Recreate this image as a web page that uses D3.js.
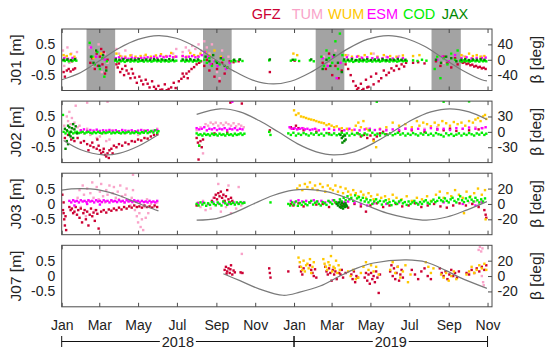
<!DOCTYPE html>
<html><head><meta charset="utf-8">
<script src="https://cdn.jsdelivr.net/npm/d3@7"></script>
<style>
body{margin:0;background:#fff;}
svg{display:block;font-family:"Liberation Sans",Arial,sans-serif;}
</style></head><body>
<svg width="550" height="357"></svg>
<script>
// analysis centres, in legend order
const centres = ['GFZ', 'TUM', 'WUM', 'ESM', 'COD', 'JAX'];
const centreColors = ['#cc0033', '#f9a3c9', '#ffc800', '#ff00ff', '#00ee00', '#008800'];
const satellites = ['J01', 'J02', 'J03', 'J07'];
const monthTicks = ['2018-01', '2018-03', '2018-05', '2018-07', '2018-09', '2018-11',
  '2019-01', '2019-03', '2019-05', '2019-07', '2019-09', '2019-11'];
const mTicks = [-0.5, 0, 0.5];
const betaTicks = [[-40, 0, 40], [-30, 0, 30], [-20, 0, 20], [-20, 0, 20]];
const betaLimits = [80, 60, 40, 40];
const years = [['2018', 0, 365], ['2019', 365, 669]];

// eclipse seasons of J01, [start day, end day] since 2018-01-01
const j01Shade = [[39, 84], [222, 267], [399, 444], [581, 627]];

// beta angle [day, deg]
const j01Beta = [[[0,-52],[30,-33],[60,-2],[90,30],[120,53],[152,63],[180,56],[210,34],[240,2],[270,-29],[300,-53],[332,-63],[360,-56],[390,-34],[420,-3],[450,29],[480,53],[513,63],[540,56],[570,35],[600,3],[630,-28],[660,-52],[668,-55]]];
const j02Beta = [[[3,-17],[30,-35],[65,-45],[90,-42],[120,-28],[152,-5]],
  [[212,34],[249,45],[280,39],[310,22],[340,0],[370,-23],[400,-39],[427,-45],[460,-39],[490,-22],[520,0],[550,23],[580,39],[610,45],[640,39],[668,24]]];
const j03Beta = [[[0,18],[15,19.5],[30,20],[45,19.5],[60,18],[75,15],[90,11],[105,6],[120,1],[135,-4],[152,-9]],
  [[212,-21],[243,-19],[275,-10],[301,0],[332,11],[364,18],[385,19],[416,16],[448,8],[479,-2],[511,-12],[542,-18],[573,-21],[605,-17],[636,-8],[668,3]]];
const j07Beta = [[[254,3],[280,-6],[311,-17],[348,-25],[374,-21],[406,-13],[437,0],[463,10],[490,17],[542,21],[573,18],[604,7],[626,-2],[668,-16]]];

// orbit differences [day, m]
const j01Gfz = [[3,-0.4],[5,-0.55],[8,-0.35],[11,-0.3],[14,-0.38],[18,-0.32],[21,-0.28],[16,-0.05],
  [45,-0.1],[48,0.05],[52,-0.3],[55,0.2],[57,-0.2],[60,0.1],[62,0.35],[64,-0.15],[66,0.25],[68,-0.45],[70,-0.25],[72,0.0],
  [86,-0.15],[88,-0.25],[90,-0.12],[92,-0.4],[95,-0.3],[98,-0.5],[100,-0.2],[102,-0.35],[105,-0.45],[108,-0.6],[110,-0.3],[112,-0.45],[115,-0.58],[118,-0.75],[122,-0.55],[125,-0.68],[128,-0.8],[132,-0.65],[135,-0.78],[138,-0.9],[142,-0.7],[145,-0.88],[148,-0.95],[152,-0.85],[155,-0.98],[158,-0.97],[162,-0.8],[165,-0.99],[168,-0.95],[172,-0.9],[176,-0.75],[179,-0.92],
  [184,-0.7],[188,-0.62],[190,-0.45],[192,-0.55],[196,-0.45],[198,-0.6],[200,-0.38],[204,-0.3],[208,-0.24],[212,-0.15],[216,-0.1],[219,-0.05],
  [224,-0.2],[228,0.0],[232,-0.35],[236,-0.15],[240,-0.55],[244,-0.3],[248,-0.7],[252,-0.1],[256,-0.45],[260,-0.25],[264,-0.05],
  [270,-0.08],[278,-0.05],[327,-0.4],[366,-0.03],
  [410,-0.1],[415,-0.3],[420,0.2],[425,-0.5],[430,-0.2],[435,-0.6],[440,-0.35],
  [446,-0.15],[450,-0.3],[454,-0.5],[458,-0.7],[462,-0.85],[464,-0.97],[466,-0.92],[470,-0.78],[472,-0.99],[474,-0.95],[478,-0.65],[480,-0.9],[482,-0.88],[486,-0.55],[490,-0.8],[494,-0.45],[498,-0.7],[502,-0.6],[506,-0.35],[510,-0.5],[514,-0.42],[518,-0.28],[522,-0.35],[526,-0.2],[530,-0.3],[534,-0.15],[538,-0.22],[541,-0.1],
  [552,-0.1],[560,-0.08],[570,-0.12],
  [588,-0.05],[595,-0.2],[600,0.1],[606,-0.1],[612,-0.25],[618,0.05],[622,-0.15],
  [627,-0.05],[630,-0.1],[633,-0.08],[636,-0.14],[639,-0.12],[642,-0.18],[645,-0.16],[648,-0.22],[651,-0.2],[654,-0.25],[657,-0.23],[660,-0.28],[663,-0.26],[666,-0.3]];
const j01Tum = [[2,0.3],[4,-0.2],[6,0.1],[9,0.4],[12,-0.1],[15,0.2],[19,-0.3],[22,0.05],[24,0.25],
  [44,0.4],[48,-0.2],[53,0.3],[58,0.5],[63,-0.4],[68,0.2],[72,-0.1],
  [86,0.35],[90,0.2],[95,0.1],[100,0.3],[110,0.15],[120,0.05],[130,0.12],[145,0.08],[160,0.1],[175,0.2],[180,0.35],
  [190,0.25],[195,0.4],[200,0.3],[205,0.45],[210,0.35],[215,0.5],[219,0.3],
  [224,0.6],[228,0.4],[232,0.2],[236,0.5],[240,0.0],[244,-0.4],[248,-0.6],[252,0.3],[256,-0.2],[262,0.1],
  [412,0.1],[420,-0.15],[430,0.3],[450,0.15],[470,0.08],[490,0.2],[510,0.1],[530,0.12],
  [590,0.1],[600,-0.1],[612,0.2],[630,0.12],[645,0.05],[660,0.1]];
const j01Wum = [[3,0.15],[8,0.12],[14,0.18],[20,0.1],[50,0.05],[62,0.2],
  [86,0.2],[92,0.12],[100,0.1],[108,0.14],[116,0.1],[124,0.12],[132,0.16],[140,0.1],[148,0.14],[156,0.18],[164,0.12],[172,0.22],[178,0.1],
  [190,0.12],[196,0.1],[202,0.22],[208,0.15],[214,0.12],[218,0.2],
  [226,0.25],[232,0.15],[240,0.3],[250,0.1],[364,0.2],[370,0.15],
  [446,0.15],[456,0.1],[466,0.12],[476,0.15],[486,0.2],[496,0.1],[506,0.15],[516,0.12],[526,0.1],[536,0.14],
  [552,0.12],[562,0.15],
  [628,0.15],[634,0.1],[640,0.2],[646,0.12],[652,0.15],[658,0.1],[664,0.12]];
const j01Esm = [[4,0.05],[10,0.03],[17,0.06],[46,0.4],[54,0.1],[60,-0.2],[68,0.0],
  [85,0.05],[90,0.08],[95,0.04],[100,0.06],[105,0.03],[110,0.07],[115,0.05],[120,0.04],[125,0.06],[130,0.05],[135,0.08],[140,0.05],[145,0.1],[150,0.06],[155,0.12],[160,0.08],[165,0.1],[170,0.12],[175,0.08],[180,0.1],
  [190,0.12],[195,0.08],[200,0.1],[205,0.12],[210,0.08],[215,0.1],[220,0.15],
  [225,0.25],[230,0.1],[234,-0.15],[240,-0.05],[245,-0.2],[252,0.05],[258,-0.3],[264,-0.1],
  [410,0.05],[418,-0.2],[426,0.1],[432,-0.6],[438,-0.1],
  [448,0.08],[456,0.05],[464,0.1],[472,0.06],[480,0.08],[488,0.05],[496,0.07],[504,0.05],[512,0.08],[520,0.04],[528,0.06],[536,0.05],
  [590,0.0],[598,0.1],[608,-0.05],[618,0.15],
  [628,0.05],[636,0.08],[644,0.04],[652,0.06],[660,0.05],[666,0.07]];
const j01Cod = [[2,-0.02],[5,-0.04],[8,0.0],[11,-0.05],[14,-0.02],[17,-0.04],[20,-0.01],[23,-0.03],
  [44,0.55],[48,0.1],[52,-0.15],[56,0.25],[60,-0.3],[64,0.05],[67,-0.55],[71,-0.05],
  [84,-0.03],[87,-0.06],[90,-0.02],[93,-0.05],[96,-0.03],[99,-0.07],[102,-0.04],[105,-0.02],[108,-0.06],[111,-0.03],[114,-0.05],[117,-0.02],[120,-0.06],[123,-0.04],[126,-0.03],[129,-0.06],[132,-0.02],[135,-0.05],[138,-0.03],[141,-0.06],[144,-0.04],[147,-0.02],[150,-0.05],[153,-0.03],[156,-0.06],[159,-0.02],[162,-0.05],[165,-0.03],[168,-0.06],[171,-0.04],[174,-0.02],[177,-0.05],[180,-0.03],
  [188,-0.04],[191,-0.02],[194,-0.06],[197,-0.03],[200,-0.05],[203,-0.02],[206,-0.06],[209,-0.03],[212,-0.05],[215,-0.02],[218,-0.04],
  [224,0.0],[228,-0.1],[232,0.05],[236,-0.2],[242,-0.05],[248,-0.15],[254,0.0],[260,-0.25],[266,-0.05],
  [270,-0.02],[273,-0.05],[279,0.0],[284,-0.04],[326,-0.02],[360,-0.03],[367,0.0],[373,-0.04],[390,-0.02],[396,-0.05],
  [408,0.1],[412,-0.2],[416,0.3],[420,0.05],[425,-0.1],[430,0.6],[434,-0.3],[437,0.85],[441,0.15],
  [443,-0.03],[446,-0.06],[449,-0.02],[452,-0.05],[455,-0.03],[458,-0.07],[461,-0.04],[464,-0.02],[467,-0.06],[470,-0.03],[473,-0.05],[476,-0.02],[479,-0.06],[482,-0.04],[485,-0.03],[488,-0.06],[491,-0.02],[494,-0.05],[497,-0.03],[500,-0.06],[503,-0.04],[506,-0.02],[509,-0.05],[512,-0.03],[515,-0.06],[518,-0.02],[521,-0.05],[524,-0.03],[527,-0.06],[530,-0.04],[533,-0.02],[536,-0.05],[539,-0.03],[542,-0.04],
  [552,-0.02],[559,-0.04],[566,0.0],[573,-0.03],
  [586,-0.3],[590,0.1],[595,-0.6],[600,0.05],[606,-0.15],[612,0.2],[618,0.0],[622,0.3],
  [626,-0.03],[629,-0.06],[632,-0.02],[635,-0.05],[638,-0.03],[641,-0.06],[644,-0.04],[647,-0.02],[650,-0.05],[653,-0.03],[656,-0.06],[659,-0.02],[662,-0.05],[665,-0.03],[667,-0.05]];
const j01Jax = [[3,0.0],[9,0.01],[15,-0.01],[21,0.02],
  [46,0.1],[50,-0.1],[54,0.3],[59,-0.2],[65,0.15],[70,-0.35],
  [85,0.01],[91,0.0],[97,0.02],[103,-0.01],[109,0.01],[115,0.0],[121,0.02],[127,-0.01],[133,0.01],[139,0.0],[145,0.02],[151,0.0],[157,0.01],[163,-0.01],[169,0.02],[175,0.0],
  [190,0.01],[196,0.0],[202,0.02],[208,-0.01],[214,0.01],
  [226,0.1],[232,-0.05],[238,0.15],[244,-0.1],[250,0.05],[256,-0.2],
  [271,0.0],[280,0.01],[327,0.01],[363,0.0],[392,0.01],
  [410,-0.3],[416,0.0],[422,-0.2],[428,0.15],[434,-0.1],[440,-0.4],
  [444,0.01],[450,0.0],[456,0.02],[462,-0.01],[468,0.01],[474,0.0],[480,0.02],[486,-0.01],[492,0.01],[498,0.0],[504,0.02],[510,-0.01],[516,0.01],[522,0.0],[528,0.02],[534,0.0],[540,0.0],
  [588,0.0],[596,-0.1],[604,0.1],[612,0.05],[620,-0.05],
  [628,0.0],[634,0.02],[640,-0.01],[646,0.01],[652,0.0],[658,0.02],[664,0.0]];

const j02Gfz = [[5,-0.2],[10,-0.1],[15,-0.25],[20,-0.3],[25,-0.2],[30,-0.35],[35,-0.3],[40,-0.4],[45,-0.45],[50,-0.5],[55,-0.55],[60,-0.6],[62,-0.7],[65,-0.65],[68,-0.75],[70,-0.8],[72,-0.7],[75,-0.6],[78,-0.55],[82,-0.45],[86,-0.5],[90,-0.4],[95,-0.45],[100,-0.35],[105,-0.4],[110,-0.3],[115,-0.32],[120,-0.25],[125,-0.28],[130,-0.2],[135,-0.22],[140,-0.15],[145,-0.1],[150,-0.08],
  [42,-0.6],[48,-0.35],[58,-0.45],[66,-0.55],[74,-0.85],[80,-0.7],[56,-0.25],
  [212,-0.2],[214,-0.35],[216,-0.45],[218,-0.3],[220,-0.5],[222,-0.25],[215,-0.9],[265,0.95],[283,0.92],[240,-0.05],[260,-0.02],
  [327,0.05],
  [360,0.15],[364,0.1],[368,0.2],[372,0.12],[380,0.05],[400,0.0],[420,-0.05],[440,0.02],[465,-0.05],[470,-0.15],[475,-0.1],[480,-0.2],[485,-0.12],[490,-0.25],[495,-0.15],[500,-0.05],[505,0.0],[510,-0.08],[530,0.02],[550,0.05],[570,0.0],[590,0.08],[600,0.05],[610,0.1],[620,0.03],[640,0.05],[655,0.08]];
const j02Tum = [[4,0.2],[8,0.5],[10,0.35],[12,0.65],[14,0.25],[16,0.45],[18,0.1],[20,0.3],[22,0.85],[25,0.15],[28,0.2],[30,0.05],[35,-0.05],[40,0.1],[45,-0.1],[50,0.0],[55,-0.2],[60,-0.15],[65,-0.05],[70,-0.3],[75,-0.25],[80,0.05],[90,0.0],[100,-0.05],[110,0.0],[120,-0.1],[130,0.05],[140,0.0],[150,0.1],[40,0.95],[72,0.98],
  [212,0.05],[218,0.15],[222,-0.7],[226,0.25],[230,0.2],[234,0.3],[238,0.25],[242,0.3],[246,0.2],[250,0.28],[254,0.22],[258,0.3],[262,0.25],[266,0.2],[270,0.28],[274,0.18],[278,0.25],[282,0.2],[286,0.15],
  [360,0.1],[380,0.12],[400,0.08],[420,0.1],[450,0.05],[480,0.1],[510,0.08],[540,0.12],[570,0.1],[590,0.15],[610,0.12],[630,0.1],[650,0.15],[662,0.12]];
const j02Wum = [[365,0.7],[368,0.55],[372,0.6],[376,0.5],[380,0.48],[384,0.45],[388,0.42],[392,0.4],[396,0.38],[400,0.35],[404,0.32],[408,0.3],[412,0.28],[416,0.22],[420,0.25],[424,0.2],[428,0.15],[432,0.18],[436,0.1],[440,0.12],[448,0.1],[456,0.05],[462,0.2],[466,0.3],[470,0.15],[474,0.35],[478,0.1],[482,0.05],[490,-0.3],[494,-0.5],[500,0.1],[510,0.15],[520,0.3],[530,0.2],[540,0.25],[550,0.15],[558,0.35],[562,0.2],[568,0.3],[574,0.25],[580,0.18],[586,0.3],[592,0.22],[598,0.35],[604,0.28],[610,0.2],[616,0.32],[622,0.25],[628,0.3],[634,0.2],[640,0.35],[646,0.3],[650,0.4],[654,0.45],[658,0.35],[662,0.5],[665,0.55],[667,0.42]];
const j02Esm = [[30,0.05],[35,0.08],[40,0.03],[45,0.06],[50,0.04],[55,0.07],[60,0.03],[65,0.05],[70,0.04],[75,0.06],[80,0.03],[85,0.05],[90,0.02],[95,0.06],[100,0.04],[105,0.03],[110,0.05],[115,0.02],[120,0.04],[125,0.06],[130,0.03],[135,0.05],[140,0.02],[145,0.04],[150,0.06],
  [212,0.12],[216,0.08],[220,0.1],[224,0.15],[228,0.05],[232,0.1],[236,0.08],[240,0.12],[244,0.06],[248,0.1],[252,0.08],[256,0.12],[260,0.06],[264,0.1],[268,0.08],[272,0.12],[276,0.06],[280,0.1],[284,0.08],[268,0.98],
  [358,0.15],[362,0.1],[366,0.12],[370,0.08],[374,0.1],[378,0.12],[382,0.08],[386,0.1],[390,0.06],[394,0.08],[398,0.1],[404,0.05],[412,0.08],[420,0.1],[428,0.06],[436,0.08],[444,0.05],[452,0.1],[460,0.07],[468,0.05],[476,0.08],[484,0.1],[492,0.06],[500,0.08],[510,0.05],[520,0.08],[530,0.06],[540,0.1],[550,0.08],[560,0.1],[570,0.06],[580,0.12],[590,0.08],[600,0.1],[610,0.06],[620,0.12],[630,0.1],[640,0.14],[650,0.1],[660,0.12],[666,0.15]];
const j02Cod = [[2,0.55],[3,0.0],[6,-0.05],[9,0.02],[12,-0.03],[15,0.0],[18,-0.05],[21,-0.02],[24,0.0],[27,-0.04],[30,-0.02],[33,0.0],[36,-0.05],[39,-0.02],[42,0.0],[45,-0.03],[48,-0.05],[51,-0.01],[54,-0.04],[57,0.0],[60,-0.03],[63,-0.05],[66,-0.01],[69,-0.04],[72,-0.02],[75,0.0],[78,-0.05],[81,-0.02],[84,-0.04],[87,0.0],[90,-0.03],[93,-0.05],[96,-0.01],[99,-0.04],[102,-0.02],[105,0.0],[108,-0.05],[111,-0.02],[114,-0.04],[117,0.0],[120,-0.03],[123,-0.05],[126,-0.01],[129,-0.03],[132,0.02],[135,-0.04],[138,-0.01],[141,0.03],[144,-0.02],[147,0.05],[150,-0.03],[152,0.02],
  [212,-0.05],[215,-0.1],[218,-0.08],[221,-0.12],[224,-0.06],[227,-0.1],[230,-0.08],[233,-0.12],[236,-0.06],[239,-0.1],[242,-0.08],[245,-0.12],[248,-0.06],[251,-0.1],[254,-0.08],[257,-0.12],[260,-0.06],[263,-0.1],[266,-0.08],[269,-0.12],[272,-0.06],[275,-0.1],[278,-0.08],[281,-0.05],[284,-0.1],[287,-0.06],[216,-0.45],
  [326,0.0],[328,-0.1],
  [356,-0.05],[360,-0.1],[364,-0.03],[368,-0.12],[372,-0.06],[376,-0.1],[380,-0.04],[384,-0.08],[388,-0.12],[392,-0.05],[396,-0.09],[400,-0.03],[404,-0.1],[408,-0.06],[412,-0.12],[416,-0.04],[420,-0.08],[424,-0.1],[428,-0.05],[432,-0.11],[436,-0.07],[440,-0.03],[444,-0.09],[448,-0.05],[452,-0.12],[456,-0.06],[460,-0.1],[464,-0.04],[468,-0.08],[472,-0.12],[476,-0.05],[480,-0.09],[484,0.05],[488,-0.03],[492,-0.1],[496,-0.06],[500,-0.12],[504,-0.04],[508,-0.08],[512,-0.1],[516,-0.05],[520,-0.11],[524,-0.07],[528,-0.03],[532,-0.09],[536,-0.05],[540,-0.12],[544,-0.06],[548,-0.1],[552,-0.04],[556,-0.08],[560,-0.12],[564,-0.05],[568,-0.09],[572,-0.03],[576,-0.1],[580,-0.06],[584,-0.12],[588,-0.04],[592,-0.08],[596,-0.1],[600,-0.15],[604,-0.05],[608,-0.11],[612,-0.07],[616,-0.13],[620,-0.09],[624,-0.05],[628,-0.12],[632,-0.06],[636,-0.1],[640,-0.04],[644,-0.08],[648,-0.12],[652,-0.05],[656,-0.09],[660,-0.03],[664,-0.1],[667,-0.06],
  [495,0.98],[600,0.98],[640,0.99]];
const j02Jax = [[5,0.1],[8,0.05],[10,0.2],[12,0.15],[14,0.0],[16,0.12],[18,0.25],[20,0.08],[22,0.18],[24,-0.05],[8,-0.3],[10,-0.4],[14,-0.15],[18,-0.2],[6,-0.55],[12,-0.1],
  [438,-0.1],[440,-0.2],[442,-0.15],[444,-0.3],[446,-0.25],[441,-0.35],[445,-0.12]];

const j03Gfz = [[1,0.3],[2,-0.2],[3,0.05],[4,-0.5],[5,-0.7],[6,-0.4],[7,-0.85],[3,-0.3],
  [12,-0.1],[14,-0.2],[16,-0.15],[18,-0.3],[20,-0.25],[22,-0.1],[24,-0.35],[26,-0.2],[28,-0.45],[30,-0.15],[32,-0.6],[34,-0.3],[36,-0.2],[38,-0.5],[40,-0.25],[42,-0.7],[44,-0.35],[46,-0.15],[48,-0.4],[50,-0.28],[52,-0.55],[54,-0.2],[56,-0.32],[58,-0.8],[62,-0.25],[66,-0.2],[70,-0.28],[74,-0.18],[78,-0.22],[82,-0.15],[86,-0.2],[90,-0.12],[94,-0.18],[98,-0.1],[102,-0.15],[106,-0.08],[110,-0.12],[114,-0.05],[118,-0.1],[122,-0.08],[126,-0.12],[130,-0.05],[134,-0.1],[138,-0.08],[142,-0.12],[146,-0.05],[150,-0.1],
  [212,-0.05],[214,0.02],[236,0.1],[240,0.2],[242,0.3],[244,0.15],[246,0.35],[248,0.25],[250,0.4],[252,0.2],[254,0.3],[256,0.1],[258,0.25],[260,0.45],[262,0.15],[264,0.05],[266,0.2],[268,0.1],
  [360,0.0],[364,-0.05],[372,0.02],[380,-0.08],[390,0.05],[400,-0.02],[410,0.0],[420,-0.1],[430,0.05],[440,-0.05],[450,-0.12],[460,0.0],[470,-0.08],[478,-0.25],[485,-0.05],[495,0.02],[505,-0.1],[515,-0.05],[525,0.0],[535,-0.08],[545,-0.05],[555,0.02],[565,-0.1],[575,-0.05],[585,0.0],[595,-0.08],[605,-0.12],[615,-0.05],[625,0.02],[635,-0.05],[645,0.0],[655,-0.1],[664,-0.2],[666,-0.35],[667,-0.45]];
const j03Tum = [[25,0.2],[28,0.45],[30,-0.1],[33,0.6],[35,0.3],[38,-0.4],[40,0.5],[42,0.1],[45,0.35],[48,0.7],[50,0.2],[52,-0.2],[55,0.55],[58,0.15],[60,0.4],[62,0.65],[65,0.25],[68,0.05],[70,0.45],[72,0.3],[75,0.6],[78,0.1],[80,0.35],[82,0.55],[85,0.2],[88,0.4],[90,0.15],[92,0.6],[95,0.25],[98,0.05],[100,0.3],[102,0.5],[105,0.1],[108,-0.05],[110,0.2],[112,0.45],[115,-0.2],[118,-0.4],[120,-0.6],[122,-0.3],[124,-0.75],[126,-0.5],[128,-0.85],[130,-0.1],[132,-0.45],[134,0.15],[136,-0.3],[140,0.0],[145,-0.1],[150,0.05],[112,0.95],
  [214,0.05],[218,-0.1],[222,0.1],[226,-0.2],[230,0.0],[234,-0.15],[238,0.2],[242,-0.05],[246,0.65],[250,-0.25],[254,0.1],[258,-0.1],[262,0.6],[266,-0.3],[270,0.05],[274,-0.15],[278,0.55],[282,-0.05],
  [640,0.05],[645,0.0],[650,0.08],[655,-0.02],[660,0.1]];
const j03Wum = [[370,0.5],[374,0.6],[378,0.45],[382,0.65],[386,0.55],[390,0.7],[394,0.5],[398,0.6],[402,0.45],[406,0.65],[410,0.55],[414,0.4],[418,0.6],[422,0.5],[426,0.45],[430,0.6],[434,0.4],[438,0.55],[442,0.35],[446,0.5],[450,0.4],[454,0.3],[458,0.45],[462,0.35],[466,0.25],[470,0.4],[474,0.3],[478,0.2],[482,0.35],[486,0.25],[490,0.15],[496,0.3],[502,0.2],[508,0.25],[514,0.15],[520,0.3],[526,0.2],[534,0.15],[542,0.25],[550,0.1],[558,0.2],[566,0.15],[574,0.25],[580,0.1],[588,0.3],[594,0.4],[600,0.2],[606,0.35],[612,0.25],[618,0.45],[624,0.3],[630,0.2],[636,0.4],[642,0.25],[648,0.35],[654,0.5],[660,0.3],[665,0.45],[632,-0.3],[666,-0.5]];
const j03Esm = [[12,0.1],[15,0.05],[18,0.12],[21,0.08],[24,0.1],[27,0.05],[30,0.12],[33,0.08],[36,0.1],[39,0.06],[42,0.12],[45,0.08],[48,0.1],[51,0.05],[54,0.12],[57,0.08],[60,0.1],[63,0.06],[66,0.12],[69,0.08],[72,0.1],[75,0.05],[78,0.12],[81,0.08],[84,0.1],[87,0.06],[90,0.12],[93,0.08],[96,0.1],[99,0.05],[102,0.12],[105,0.08],[108,0.1],[111,0.06],[114,0.12],[117,0.08],[120,0.1],[123,0.05],[126,0.1],[129,0.06],[132,0.08],[135,0.05],[138,0.1],[141,0.06],[144,0.08],[147,0.05],[150,0.1],[20,-0.05],[40,0.0],[60,-0.02],
  [214,0.02],[222,0.05],[230,0.0],[238,0.06],[246,0.02],[254,0.05],[262,0.0],[270,0.04],[278,0.02],[286,0.05],
  [360,0.1],[366,0.05],[372,0.12],[378,0.08],[384,0.1],[390,0.05],[396,0.12],[402,0.08],[408,0.1],[414,0.05],[420,0.08],[426,0.12],[432,0.06],[438,0.1],[444,0.05],[450,0.08],[460,0.05],[470,0.0],[480,-0.05],[490,0.02],[510,0.0],[530,0.05],[560,0.0],[600,0.05],[630,0.0],[650,-0.05],[660,0.05]];
const j03Cod = [[212,0.0],[215,-0.05],[218,0.05],[221,-0.02],[224,0.03],[227,-0.06],[230,0.02],[233,-0.03],[236,0.06],[239,0.0],[242,-0.04],[245,0.05],[248,0.0],[251,-0.05],[254,0.08],[257,0.02],[260,-0.03],[263,0.06],[266,0.0],[269,0.04],[272,-0.02],[275,0.05],[278,0.0],[281,0.06],[284,0.02],[287,0.04],
  [328,0.05],
  [356,0.0],[359,-0.05],[362,0.05],[365,-0.02],[368,0.08],[371,-0.06],[374,0.03],[377,-0.03],[380,0.06],[383,0.0],[386,-0.04],[389,0.05],[392,0.1],[395,-0.02],[398,0.04],[401,0.08],[404,0.0],[407,-0.05],[410,0.06],[413,0.02],[416,-0.03],[419,0.1],[422,0.05],[425,0.0],[428,0.12],[431,0.06],[434,0.02],[437,0.15],[440,0.08],[443,0.2],[446,0.12],[449,0.25],[452,0.15],[455,0.2],[458,0.1],[461,0.28],[464,0.18],[467,0.22],[470,0.12],[473,0.2],[476,0.08],[479,0.15],[482,0.05],[485,0.12],[488,0.0],[491,0.08],[494,0.15],[497,0.05],[500,0.1],[503,-0.02],[506,0.08],[509,0.12],[512,0.02],[515,0.06],[518,-0.04],[521,0.1],[524,0.04],[527,0.0],[530,0.08],[533,0.12],[536,0.02],[539,0.06],[542,-0.03],[545,0.08],[548,0.0],[551,0.05],[554,0.1],[557,0.03],[560,-0.02],[563,0.06],[566,0.0],[569,0.08],[572,0.12],[575,0.04],[578,0.0],[581,0.08],[584,0.14],[587,0.06],[590,0.1],[593,0.2],[596,0.12],[599,0.08],[602,0.18],[605,0.1],[608,0.05],[611,0.15],[614,0.2],[617,0.1],[620,0.05],[623,0.15],[626,0.25],[629,0.12],[632,0.06],[635,0.18],[638,0.1],[641,0.22],[644,0.14],[647,0.08],[650,0.2],[653,0.12],[656,0.05],[659,0.15],[662,0.08],[665,0.18]];
const j03Jax = [[432,0.0],[434,-0.05],[436,0.05],[437,-0.1],[438,-0.02],[439,-0.12],[440,0.03],[441,-0.08],[442,-0.15],[443,0.0],[444,-0.06],[445,-0.1],[446,0.02],[447,-0.04],[448,-0.08]];

const j07Gfz = [[256,0.2],[258,0.3],[260,0.15],[262,0.25],[264,0.1],[266,0.35],[268,0.05],[270,0.18],[272,0.12],[259,0.08],[265,0.22],[281,0.12],[284,0.1],[326,0.25],[327,0.1],[328,-0.05],[356,0.15],
  [374,0.3],[376,0.15],[378,0.05],[380,0.25],[390,0.35],[392,0.2],[394,0.1],[396,0.0],[398,0.22],[400,-0.05],[414,0.3],[416,0.15],[418,0.05],[420,0.25],[422,0.1],[424,-0.15],[426,0.2],[428,0.05],[430,0.15],[432,-0.1],[436,0.1],[438,0.05],[440,0.2],[442,-0.05],[446,0.1],
  [455,0.05],[457,-0.1],[459,0.15],[461,-0.2],[463,0.0],[465,-0.05],[476,-0.05],[478,0.1],[480,-0.15],[482,0.05],[484,-0.25],[486,0.1],[488,-0.1],[490,0.0],[492,-0.2],[494,0.15],[496,-0.05],[498,-0.55],[500,0.05],
  [516,0.15],[518,0.35],[520,0.0],[522,0.25],[524,-0.1],[526,0.1],[528,0.3],[530,-0.15],[532,0.05],[534,0.2],[536,-0.05],[550,0.2],[555,0.05],[560,-0.1],[565,0.15],[570,0.25],[575,0.0],[580,-0.1],
  [594,0.25],[597,0.1],[600,0.0],[603,0.15],[606,-0.1],[609,0.05],[612,0.2],[615,0.0],[618,0.1],[621,-0.05],[624,0.15],[636,0.1],[640,0.05],[644,0.2],[648,0.1],[652,0.25],[656,0.15],[660,0.3],[664,0.2],[667,0.35]];
const j07Tum = [[283,0.72],[282,0.1],[655,0.85],[657,0.95],[659,0.8],[661,0.9],[660,0.0],[662,-0.2],[663,-0.3]];
const j07Wum = [[372,0.6],[374,0.45],[376,0.3],[378,0.2],[380,0.5],[382,0.15],[384,0.35],[386,0.4],[388,0.25],[390,0.55],[392,0.1],[394,0.3],[396,0.45],[411,0.55],[413,0.4],[415,0.3],[417,0.2],[419,0.45],[421,0.35],[423,0.65],[425,0.15],[427,0.3],[429,0.25],[431,0.5],[433,0.1],[435,0.35],[437,0.2],
  [450,0.15],[454,0.0],[458,0.2],[462,-0.1],[466,-0.05],[470,0.1],[474,0.3],[478,0.45],[482,0.2],[486,0.35],[490,0.15],[494,0.3],[498,0.05],[516,0.2],[520,0.45],[524,0.1],[528,0.3],[532,-0.05],[536,0.15],[540,0.35],[544,-0.2],[548,0.05],
  [572,0.45],[576,0.3],[580,0.1],[584,0.25],[596,0.05],[600,-0.05],[604,0.1],[608,-0.15],[612,0.0],[616,0.15],[620,-0.1],[636,0.05],[640,0.15],[644,0.3],[648,0.1],[652,0.2],[656,0.35],[660,0.25],[664,0.4],[667,0.2]];

// per satellite: series in centre order (GFZ..JAX), beta segments
const orbitData = [
  [j01Gfz, j01Tum, j01Wum, j01Esm, j01Cod, j01Jax],
  [j02Gfz, j02Tum, j02Wum, j02Esm, j02Cod, j02Jax],
  [j03Gfz, j03Tum, j03Wum, j03Esm, j03Cod, j03Jax],
  [j07Gfz, j07Tum, j07Wum, [], [], []]
];
const betaData = [j01Beta, j02Beta, j03Beta, j07Beta];

const svg = d3.select('svg');
const t0 = new Date(2018, 0, 1);
const day = d => new Date(+t0 + d * 864e5);
const parseMonth = d3.timeParse('%Y-%m');

const x = d3.scaleTime().domain([t0, day(676)]).range([61.7, 492]);
const axisColor = '#4a4a4a';
const textColor = '#222';
const panelH = 61.5;
const drawOrder = [1, 0, 2, 3, 4, 5];  // TUM below GFZ

satellites.forEach((sat, i) => {
  const top = 29 + i * 72.1;
  const y = d3.scaleLinear().domain([-1, 1]).range([top + panelH, top]);
  const yb = d3.scaleLinear().domain([-betaLimits[i], betaLimits[i]]).range([top + panelH, top]);
  const g = svg.append('g');

  const clipId = 'clip' + i;
  svg.append('clipPath').attr('id', clipId)
    .append('rect').attr('x', x.range()[0]).attr('y', top).attr('width', x.range()[1] - x.range()[0]).attr('height', panelH);

  const plot = g.append('g').attr('clip-path', `url(#${clipId})`);

  if (i === 0) {
    plot.selectAll('.shade').data(j01Shade).enter()
      .append('rect')
      .attr('x', d => x(day(d[0])))
      .attr('width', d => x(day(d[1])) - x(day(d[0])))
      .attr('y', top).attr('height', panelH)
      .attr('fill', '#a3a3a3');
  }

  drawOrder.forEach(k => {
    plot.append('g').selectAll('rect').data(orbitData[i][k]).enter()
      .append('rect')
      .attr('x', d => x(day(d[0])) - 1.2)
      .attr('y', d => y(d[1]) - 1.2)
      .attr('width', 2.4).attr('height', 2.4)
      .attr('fill', centreColors[k]);
  });

  const line = d3.line()
    .x(d => x(day(d[0])))
    .y(d => yb(d[1]))
    .curve(d3.curveCatmullRom.alpha(0.5));
  plot.selectAll('.beta').data(betaData[i]).enter()
    .append('path')
    .attr('d', line)
    .attr('fill', 'none')
    .attr('stroke', '#7a7a7a')
    .attr('stroke-width', 1.2);

  // frame
  g.append('rect')
    .attr('x', x.range()[0]).attr('y', top)
    .attr('width', x.range()[1] - x.range()[0]).attr('height', panelH)
    .attr('fill', 'none').attr('stroke', axisColor).attr('stroke-width', 1);

  const months = monthTicks.map(parseMonth);
  const bottomAxis = d3.axisBottom(x).tickValues(months).tickSize(-4)
    .tickPadding(13)
    .tickFormat(i === satellites.length - 1 ? d3.timeFormat('%b') : '');
  g.append('g').attr('transform', `translate(0,${top + panelH})`).call(bottomAxis);
  g.append('g').attr('transform', `translate(0,${top})`)
    .call(d3.axisTop(x).tickValues(months).tickSize(-4).tickFormat(''));

  // left axis: labels only, right axis: inward ticks
  g.append('g').attr('transform', `translate(${x.range()[0]},0)`)
    .call(d3.axisLeft(y).tickValues(mTicks).tickSize(0).tickPadding(6.5).tickFormat(d => String(d)));
  g.append('g').attr('transform', `translate(${x.range()[1]},0)`)
    .call(d3.axisRight(yb).tickValues(betaTicks[i]).tickSize(-4).tickPadding(5.5).tickFormat(d => String(d)));

  g.selectAll('.domain').remove();
  g.selectAll('.tick line').attr('stroke', axisColor);
  g.selectAll('.tick text').attr('fill', textColor).attr('font-size', 14)
    .attr('font-family', '"Liberation Sans", Arial, sans-serif');

  const mid = top + panelH / 2;
  g.append('text')
    .attr('transform', `translate(21,${mid}) rotate(-90)`)
    .attr('text-anchor', 'middle')
    .attr('font-size', 15.5).attr('fill', textColor)
    .text(`${sat} [m]`);
  g.append('text')
    .attr('transform', `translate(541,${mid}) rotate(-90)`)
    .attr('text-anchor', 'middle')
    .attr('font-size', 15.5).attr('fill', textColor)
    .text('β [deg]');
});

// legend
const legendX = [251.7, 291.7, 328, 366.7, 403, 441.7];
svg.append('g').selectAll('text').data(centres).enter()
  .append('text')
  .attr('x', (d, i) => legendX[i])
  .attr('y', 18.5)
  .attr('font-size', 14.5)
  .attr('fill', (d, i) => centreColors[i])
  .text(d => d);

// year brackets below the time axis
const yb0 = 341.5;
years.forEach(([label, a, b]) => {
  const xa = x(day(a)), xb = x(day(b));
  const xm = (xa + xb) / 2;
  const half = 18;
  svg.append('line').attr('x1', xa).attr('x2', xm - half).attr('y1', yb0).attr('y2', yb0).attr('stroke', '#111');
  svg.append('line').attr('x1', xm + half).attr('x2', xb).attr('y1', yb0).attr('y2', yb0).attr('stroke', '#111');
  [xa, xb].forEach(v => svg.append('line').attr('x1', v).attr('x2', v).attr('y1', yb0 - 5.5).attr('y2', yb0 + 5.5).attr('stroke', '#111'));
  svg.append('text').attr('x', xm).attr('y', yb0 + 5.5)
    .attr('text-anchor', 'middle').attr('font-size', 14.5).attr('fill', textColor)
    .text(label);
});
</script>
</body></html>
